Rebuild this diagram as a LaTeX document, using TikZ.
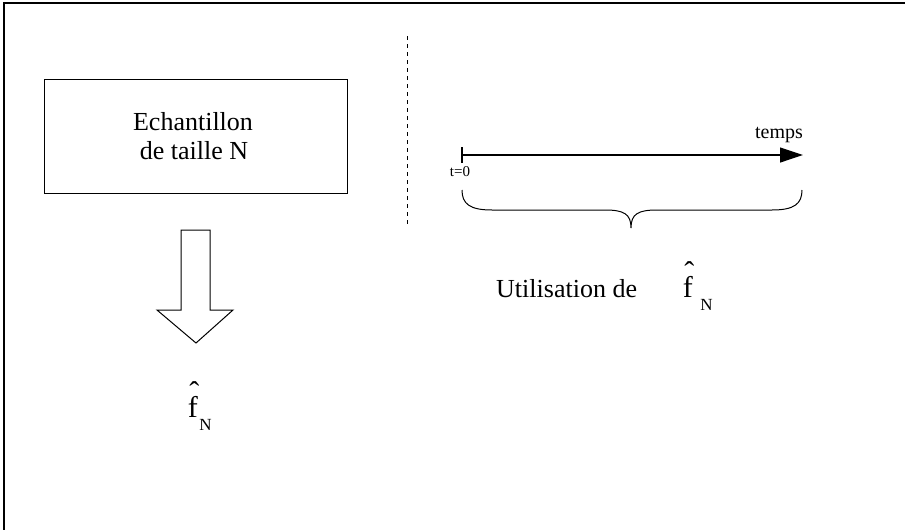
\documentclass[tikz,border=0pt]{standalone}
\usepackage{fontspec}
\setmainfont{Liberation Serif}
\usetikzlibrary{arrows.meta}
\newcommand{\fhatn}[1]{f\makebox[0pt][r]{\raisebox{15pt}{ˆ}\hspace{-1.5pt}}\hspace{#1}\raisebox{-13pt}{\fontsize{17}{19}\selectfont N}}
\tikzset{
  lbl/.style={inner sep=0pt, anchor=base, font=\fontsize{26}{29}\selectfont},
  fhatlbl/.style={inner sep=0pt, anchor=base west, font=\fontsize{30}{33}\selectfont},
  smalllbl/.style={inner sep=0pt, anchor=base, font=\fontsize{20}{22}\selectfont},
  tinylbl/.style={inner sep=0pt, anchor=base, font=\fontsize{15}{17}\selectfont},
  boxed/.style={draw, line width=1pt, minimum width=303pt, minimum height=114pt, inner sep=0pt},
  frameline/.style={line width=1.2pt},
  axis/.style={line width=1.2pt, -{Triangle[length=23pt,width=15pt]}},
  tickmark/.style={line width=2pt},
  bigarrow/.style={draw, line width=1pt, line join=miter},
  bracepath/.style={line width=1pt},
  sep/.style={line width=1pt, dash pattern=on 4pt off 4pt}
}
\begin{document}
\begin{tikzpicture}[x=1pt,y=-1pt]
\useasboundingbox (0,0) rectangle (905,530);
% frame (cropped)
\draw[frameline] (905,3) -- (4,3) -- (4,530);
% box
\node[boxed] (ech) at (195.5,136) {};
\node[lbl] (l1) at (193,130) {Echantillon};
\node[lbl] (l2) at (194,159) {de taille N};
% block arrow
\draw[bigarrow] (181,230) -- (210,230) -- (210,310) -- (233,310) -- (196,343) -- (157,310) -- (181,310) -- cycle;
% fhat below
\node[fhatlbl] (f1) at (187.7,417.7) {\fhatn{1.5pt}};
% separator
\coordinate (s1) at (407,36);
\coordinate (s2) at (407,225);
\draw[sep] (s1) -- (s2);
% time axis
\coordinate (t0) at (462,155);
\coordinate (tend) at (803,155);
\draw[axis] (t0) -- (tend);
\draw[tickmark] (462,147) -- (462,163);
\node[smalllbl] (temps) at (779,138) {temps};
\node[tinylbl] (tz) at (460,176) {t=0};
% brace
\draw[bracepath] (462,190) .. controls (462,204) and (470,210) .. (492,210)
  -- (605,210) .. controls (624,210) and (631,214) .. (631,228)
  .. controls (631,214) and (638,210) .. (657,210)
  -- (772,210) .. controls (794,210) and (802,204) .. (802,190);
% Utilisation de fhat
\node[lbl, anchor=base west] (util) at (496,297) {Utilisation de};
\node[fhatlbl] (f2) at (682.7,297.7) {\fhatn{7.5pt}};
\end{tikzpicture}
\end{document}
